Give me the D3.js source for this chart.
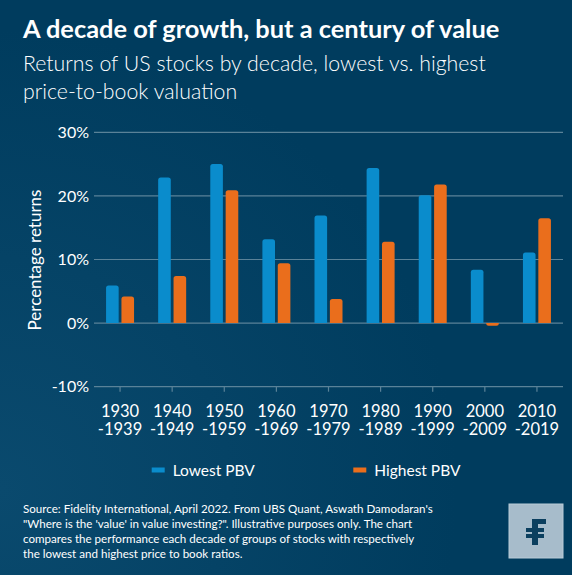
<!DOCTYPE html>
<html>
<head>
<meta charset="utf-8">
<script src="https://cdn.jsdelivr.net/npm/d3@7"></script>
<style>
  html, body { margin: 0; padding: 0; background: #003d5f; }
  svg { display: block; }
  text { font-family: Lato, "Noto Sans", sans-serif; fill: #ffffff; }
</style>
</head>
<body>
<main></main>
<script>
// decades and returns (%)
const decades = ["1930", "1940", "1950", "1960", "1970", "1980", "1990", "2000", "2010"];
const decadeEnds = ["-1939", "-1949", "-1959", "-1969", "-1979", "-1989", "-1999", "-2009", "-2019"];
const lowestPBV = [5.9, 22.9, 25.0, 13.2, 16.9, 24.4, 20.1, 8.4, 11.1];
const highestPBV = [4.2, 7.4, 20.9, 9.4, 3.8, 12.8, 21.8, -0.4, 16.5];
const seriesNames = ["Lowest PBV", "Highest PBV"];
const yTicks = [-10, 0, 10, 20, 30];

const svgSize = { width: 572, height: 575 };
const plot = { left: 94, right: 563, top: 132.3, bottom: 386.7 };
const colors = { "Lowest PBV": "#0a8ccc", "Highest PBV": "#ea6e1c" };

const svg = d3.select("main")
  .append("svg")
  .attr("width", svgSize.width)
  .attr("height", svgSize.height);

// background with a faint lighter patch at the bottom left
const defs = svg.append("defs");
const grad = defs.append("radialGradient")
  .attr("id", "bg")
  .attr("cx", "0%").attr("cy", "85%").attr("r", "80%");
grad.append("stop").attr("offset", "0%").attr("stop-color", "#0a4a6e");
grad.append("stop").attr("offset", "100%").attr("stop-color", "#003c5e");
svg.append("rect")
  .attr("width", svgSize.width)
  .attr("height", svgSize.height)
  .attr("fill", "url(#bg)");

// titles
svg.append("text")
  .attr("x", 23).attr("y", 38)
  .attr("font-size", 25.4).attr("font-weight", 700)
  .text("A decade of growth, but a century of value");

svg.append("text")
  .attr("x", 23).attr("y", 70.5)
  .attr("font-size", 21.3).attr("font-weight", 300)
  .text("Returns of US stocks by decade, lowest vs. highest");

svg.append("text")
  .attr("x", 23).attr("y", 99)
  .attr("font-size", 21.3).attr("font-weight", 300)
  .text("price-to-book valuation");

// scales
const x0 = d3.scaleBand()
  .domain(decades)
  .range([plot.left, plot.right]);

const pairWidth = 28;
const x1 = d3.scaleBand()
  .domain(seriesNames)
  .range([0, pairWidth])
  .paddingInner(0.18);

const y = d3.scaleLinear()
  .domain([-10, 30])
  .range([plot.bottom, plot.top]);

// gridlines
svg.append("g")
  .selectAll("line")
  .data(yTicks)
  .enter()
  .append("line")
  .attr("x1", plot.left)
  .attr("x2", plot.right)
  .attr("y1", d => y(d))
  .attr("y2", d => y(d))
  .attr("stroke", "#5a8298")
  .attr("stroke-width", 1.2);

// y labels
svg.append("g")
  .selectAll("text")
  .data(yTicks)
  .enter()
  .append("text")
  .attr("x", 89)
  .attr("y", d => y(d))
  .attr("dy", "0.36em")
  .attr("text-anchor", "end")
  .attr("font-size", 16)
  .text(d => d + "%");

svg.append("text")
  .attr("transform", `translate(41, ${(193 + 327) / 2}) rotate(-90)`)
  .attr("text-anchor", "middle")
  .attr("font-size", 17)
  .text("Percentage returns");

// x axis ticks at category centres
const xAxis = d3.axisBottom(x0).tickSize(5).tickFormat("");
const gx = svg.append("g")
  .attr("transform", `translate(0, ${plot.bottom})`)
  .call(xAxis);
gx.select(".domain").remove();
gx.selectAll(".tick line").attr("stroke", "#5a8298").attr("stroke-width", 1.2);

const xLabels = svg.append("g")
  .selectAll("text")
  .data(decades)
  .enter()
  .append("text")
  .attr("text-anchor", "middle")
  .attr("font-size", 16.5);
xLabels.append("tspan")
  .attr("x", d => x0(d) + x0.bandwidth() / 2)
  .attr("y", 416.5)
  .text(d => d);
xLabels.append("tspan")
  .attr("x", d => x0(d) + x0.bandwidth() / 2)
  .attr("y", 435)
  .text((d, i) => decadeEnds[i]);

// bars with rounded outer end
const barPath = (bx, bw, v) => {
  const y0 = y(0);
  const yv = y(v);
  const h = Math.abs(y0 - yv);
  const r = Math.min(2.5, h, bw / 2);
  if (v >= 0) {
    return `M${bx},${y0} V${yv + r} Q${bx},${yv} ${bx + r},${yv} H${bx + bw - r} Q${bx + bw},${yv} ${bx + bw},${yv + r} V${y0} Z`;
  }
  return `M${bx},${y0} V${yv - r} Q${bx},${yv} ${bx + r},${yv} H${bx + bw - r} Q${bx + bw},${yv} ${bx + bw},${yv - r} V${y0} Z`;
};

const rows = decades.map((d, i) => ({ decade: d, values: [lowestPBV[i], highestPBV[i]] }));
const offset = (x0.bandwidth() - pairWidth) / 2;

svg.append("g")
  .selectAll("g")
  .data(rows)
  .enter()
  .append("g")
  .attr("transform", d => `translate(${x0(d.decade) + offset}, 0)`)
  .selectAll("path")
  .data(d => d.values.map((v, j) => ({ key: seriesNames[j], value: v })))
  .enter()
  .append("path")
  .attr("d", d => barPath(x1(d.key), x1.bandwidth(), d.value))
  .attr("fill", d => colors[d.key]);

// legend
const legendX = [151.7, 353.3];
const legend = svg.append("g")
  .selectAll("g")
  .data(seriesNames)
  .enter()
  .append("g")
  .attr("transform", (d, i) => `translate(${legendX[i]}, 470)`);
legend.append("rect")
  .attr("x", 0).attr("y", -2.5)
  .attr("width", 13).attr("height", 5)
  .attr("fill", d => colors[d]);
legend.append("text")
  .attr("x", 21)
  .attr("dy", "0.36em")
  .attr("font-size", 15.5)
  .text(d => d);

// source note
const notes = [
  "Source: Fidelity International, April 2022. From UBS Quant, Aswath Damodaran's",
  "\"Where is the 'value' in value investing?\". Illustrative purposes only. The chart",
  "compares the performance each decade of groups of stocks with respectively",
  "the lowest and highest price to book ratios."
];
svg.append("g")
  .selectAll("text")
  .data(notes)
  .enter()
  .append("text")
  .attr("x", 23)
  .attr("y", (d, i) => 508.5 + i * 15)
  .attr("dy", "0.36em")
  .attr("font-size", 11.6)
  .text(d => d);

// logo
const logo = svg.append("g").attr("transform", "translate(509, 504)");
logo.append("rect")
  .attr("width", 54).attr("height", 54)
  .attr("fill", "#a7bccb")
  .attr("stroke", "#b9ccd8").attr("stroke-width", 1);
logo.append("rect").attr("x", 23).attr("y", 15).attr("width", 6).attr("height", 26).attr("fill", "#0b3f5f");
logo.append("rect").attr("x", 23).attr("y", 15).attr("width", 14).attr("height", 5).attr("fill", "#0b3f5f");
logo.append("rect").attr("x", 17).attr("y", 24).attr("width", 18).attr("height", 4).attr("fill", "#0b3f5f");
logo.append("rect").attr("x", 17).attr("y", 30).attr("width", 18).attr("height", 4).attr("fill", "#0b3f5f");
</script>
</body>
</html>
